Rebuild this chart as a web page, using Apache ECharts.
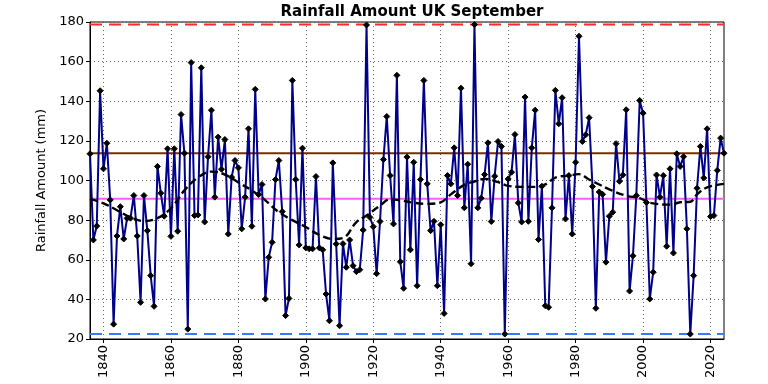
<!DOCTYPE html>
<html>
<head>
    <meta charset="utf-8">
    <title>Rainfall Amount UK September</title>
    <script src="https://cdn.jsdelivr.net/npm/echarts@6/dist/echarts.min.js"></script>
    <style>
        html, body { margin: 0; padding: 0; background: #fff; }
        #chart1 { width: 768px; height: 384px; }
    </style>
</head>
<body>
<div id="chart1"></div>
<script type="text/javascript">
    // September rainfall (mm), one value per year from firstYear
    var firstYear = 1836;
    var rainfall = [
        113.5, 70.0, 77.0, 145.3, 105.9, 118.8, 90.2, 27.5, 72.0, 86.8, 70.5, 80.9, 81.0, 92.4, 72.0, 38.5,
        92.4, 74.7, 52.0, 36.5, 107.1, 93.6, 82.0, 116.0, 71.8, 116.0, 74.4, 133.3, 113.8, 25.0, 159.5, 82.3,
        82.6, 156.9, 79.1, 112.0, 135.5, 91.6, 121.9, 105.7, 120.7, 73.0, 101.7, 110.1, 106.4, 75.6, 91.6, 126.1,
        76.9, 146.0, 92.9, 98.0, 40.2, 61.2, 68.8, 100.5, 110.1, 84.3, 31.8, 40.5, 150.5, 100.5, 67.5, 116.3,
        66.0, 65.5, 65.5, 102.0, 66.0, 65.0, 42.7, 29.2, 108.9, 68.0, 26.7, 68.1, 56.2, 70.0, 57.0, 54.0,
        55.0, 75.0, 178.5, 81.4, 76.7, 53.0, 79.3, 110.6, 132.3, 102.5, 78.1, 153.1, 59.0, 45.6, 111.8, 65.0,
        109.2, 46.9, 100.5, 150.5, 98.3, 74.7, 79.4, 46.9, 77.7, 32.9, 102.5, 98.3, 116.5, 92.4, 146.6, 86.2,
        108.2, 58.0, 178.7, 86.2, 91.1, 103.0, 119.0, 79.3, 102.2, 119.7, 117.2, 22.5, 100.8, 104.2, 123.2, 88.7,
        79.1, 142.1, 79.4, 116.5, 135.5, 70.2, 97.1, 36.8, 36.0, 86.2, 145.5, 128.6, 141.8, 80.6, 102.5, 73.0,
        109.2, 172.8, 119.7, 123.1, 131.7, 97.0, 35.5, 94.2, 93.0, 58.8, 82.0, 84.0, 118.6, 99.6, 102.8, 135.7,
        44.2, 62.0, 92.4, 140.4, 134.0, 88.9, 40.2, 53.7, 102.8, 91.6, 102.5, 66.8, 105.9, 63.4, 113.5, 107.1,
        112.0, 75.6, 22.5, 52.0, 96.1, 117.2, 101.3, 126.1, 81.8, 82.3, 105.1, 121.4, 113.8
    ];

    // smoothed trend
    var trendYears = [1836, 1840, 1844, 1848, 1852, 1856, 1860, 1864, 1868, 1872, 1876, 1880, 1884, 1888,
        1892, 1896, 1900, 1904, 1908, 1911, 1915, 1918, 1922, 1925, 1928, 1932, 1936, 1940, 1943, 1947,
        1950, 1953, 1957, 1960, 1964, 1968, 1971, 1974, 1978, 1981, 1984, 1987, 1990, 1995, 1999, 2002,
        2008, 2011, 2014, 2016, 2019, 2024];
    var trendValues = [90.7, 88.5, 85.0, 81.5, 79.5, 81.0, 86.0, 95.0, 101.5, 104.5, 103.0, 99.0, 95.0, 90.0,
        84.0, 80.0, 76.5, 72.5, 70.5, 71.0, 79.0, 82.3, 87.3, 90.5, 90.0, 88.8, 88.2, 89.0, 93.0, 97.8,
        99.5, 100.8, 99.2, 97.3, 96.8, 96.8, 98.0, 101.5, 102.5, 103.2, 100.5, 98.0, 95.5, 92.3, 91.1, 88.8,
        87.8, 89.0, 89.3, 93.0, 96.5, 98.3];

    // reference levels: max, min, latest, mean
    var refMax = 178.7;
    var refMin = 22.5;
    var refLatest = 113.8;
    var refMean = 90.8;

    var yearTicks = [1840, 1860, 1880, 1900, 1920, 1940, 1960, 1980, 2000, 2020];

    var lastYear = firstYear + rainfall.length - 1;
    var rainData = rainfall.map(function (v, i) { return [firstYear + i, v]; });
    var trendData = trendYears.map(function (y, i) { return [y, trendValues[i]]; });

    function hline(name, value, color, type) {
        return {
            name: name,
            type: 'line',
            data: [[firstYear, value], [lastYear, value]],
            symbol: 'none',
            silent: true,
            z: 1,
            lineStyle: { color: color, width: 2, type: type }
        };
    }

    var myChart1 = echarts.init(document.getElementById('chart1'));
    myChart1.setOption({
        animation: false,
        textStyle: { fontFamily: 'DejaVu Sans' },
        title: {
            text: 'Rainfall Amount UK September',
            left: 407,
            top: 0,
            textAlign: 'center',
            textStyle: { fontSize: 15, fontWeight: 'bold', color: '#000' }
        },
        grid: {
            left: 90, right: 44, top: 22, bottom: 45,
            show: true, borderColor: '#000', borderWidth: 1
        },
        xAxis: {
            type: 'value',
            min: firstYear,
            max: lastYear,
            axisLine: { lineStyle: { color: '#000' } },
            axisTick: { show: true, length: 4, customValues: yearTicks, lineStyle: { color: '#000' } },
            axisLabel: {
                customValues: yearTicks, rotate: 90, fontSize: 13, color: '#000', margin: 6,
                formatter: function (v) { return String(v); }
            },
            splitLine: { show: true, lineStyle: { color: '#666', type: [1, 3], width: 1 } }
        },
        yAxis: {
            type: 'value',
            min: 20,
            max: 180,
            interval: 20,
            name: 'Rainfall Amount (mm)',
            nameLocation: 'middle',
            nameGap: 31,
            nameTextStyle: { fontSize: 13, color: '#000' },
            axisLine: { show: true, lineStyle: { color: '#000' } },
            axisTick: { show: true, length: 4, lineStyle: { color: '#000' } },
            axisLabel: { fontSize: 13, color: '#000', margin: 6 },
            splitLine: { show: true, lineStyle: { color: '#666', type: [1, 3], width: 1 } }
        },
        series: [
            hline('Max', refMax, '#ff2a2a', [12, 7]),
            hline('Min', refMin, '#3a78ff', [12, 7]),
            hline('Latest', refLatest, '#7a2e00', 'solid'),
            hline('Mean', refMean, '#ff5cff', 'solid'),
            {
                name: 'Rainfall',
                type: 'line',
                data: rainData,
                z: 3,
                symbol: 'diamond',
                symbolSize: 6,
                itemStyle: { color: '#000', borderColor: '#000' },
                lineStyle: { color: '#00008b', width: 2 }
            },
            {
                name: 'Trend',
                type: 'line',
                data: trendData,
                z: 4,
                smooth: 0.4,
                symbol: 'none',
                lineStyle: { color: '#000', width: 2.4, type: [8, 4] }
            }
        ]
    });
</script>
</body>
</html>
